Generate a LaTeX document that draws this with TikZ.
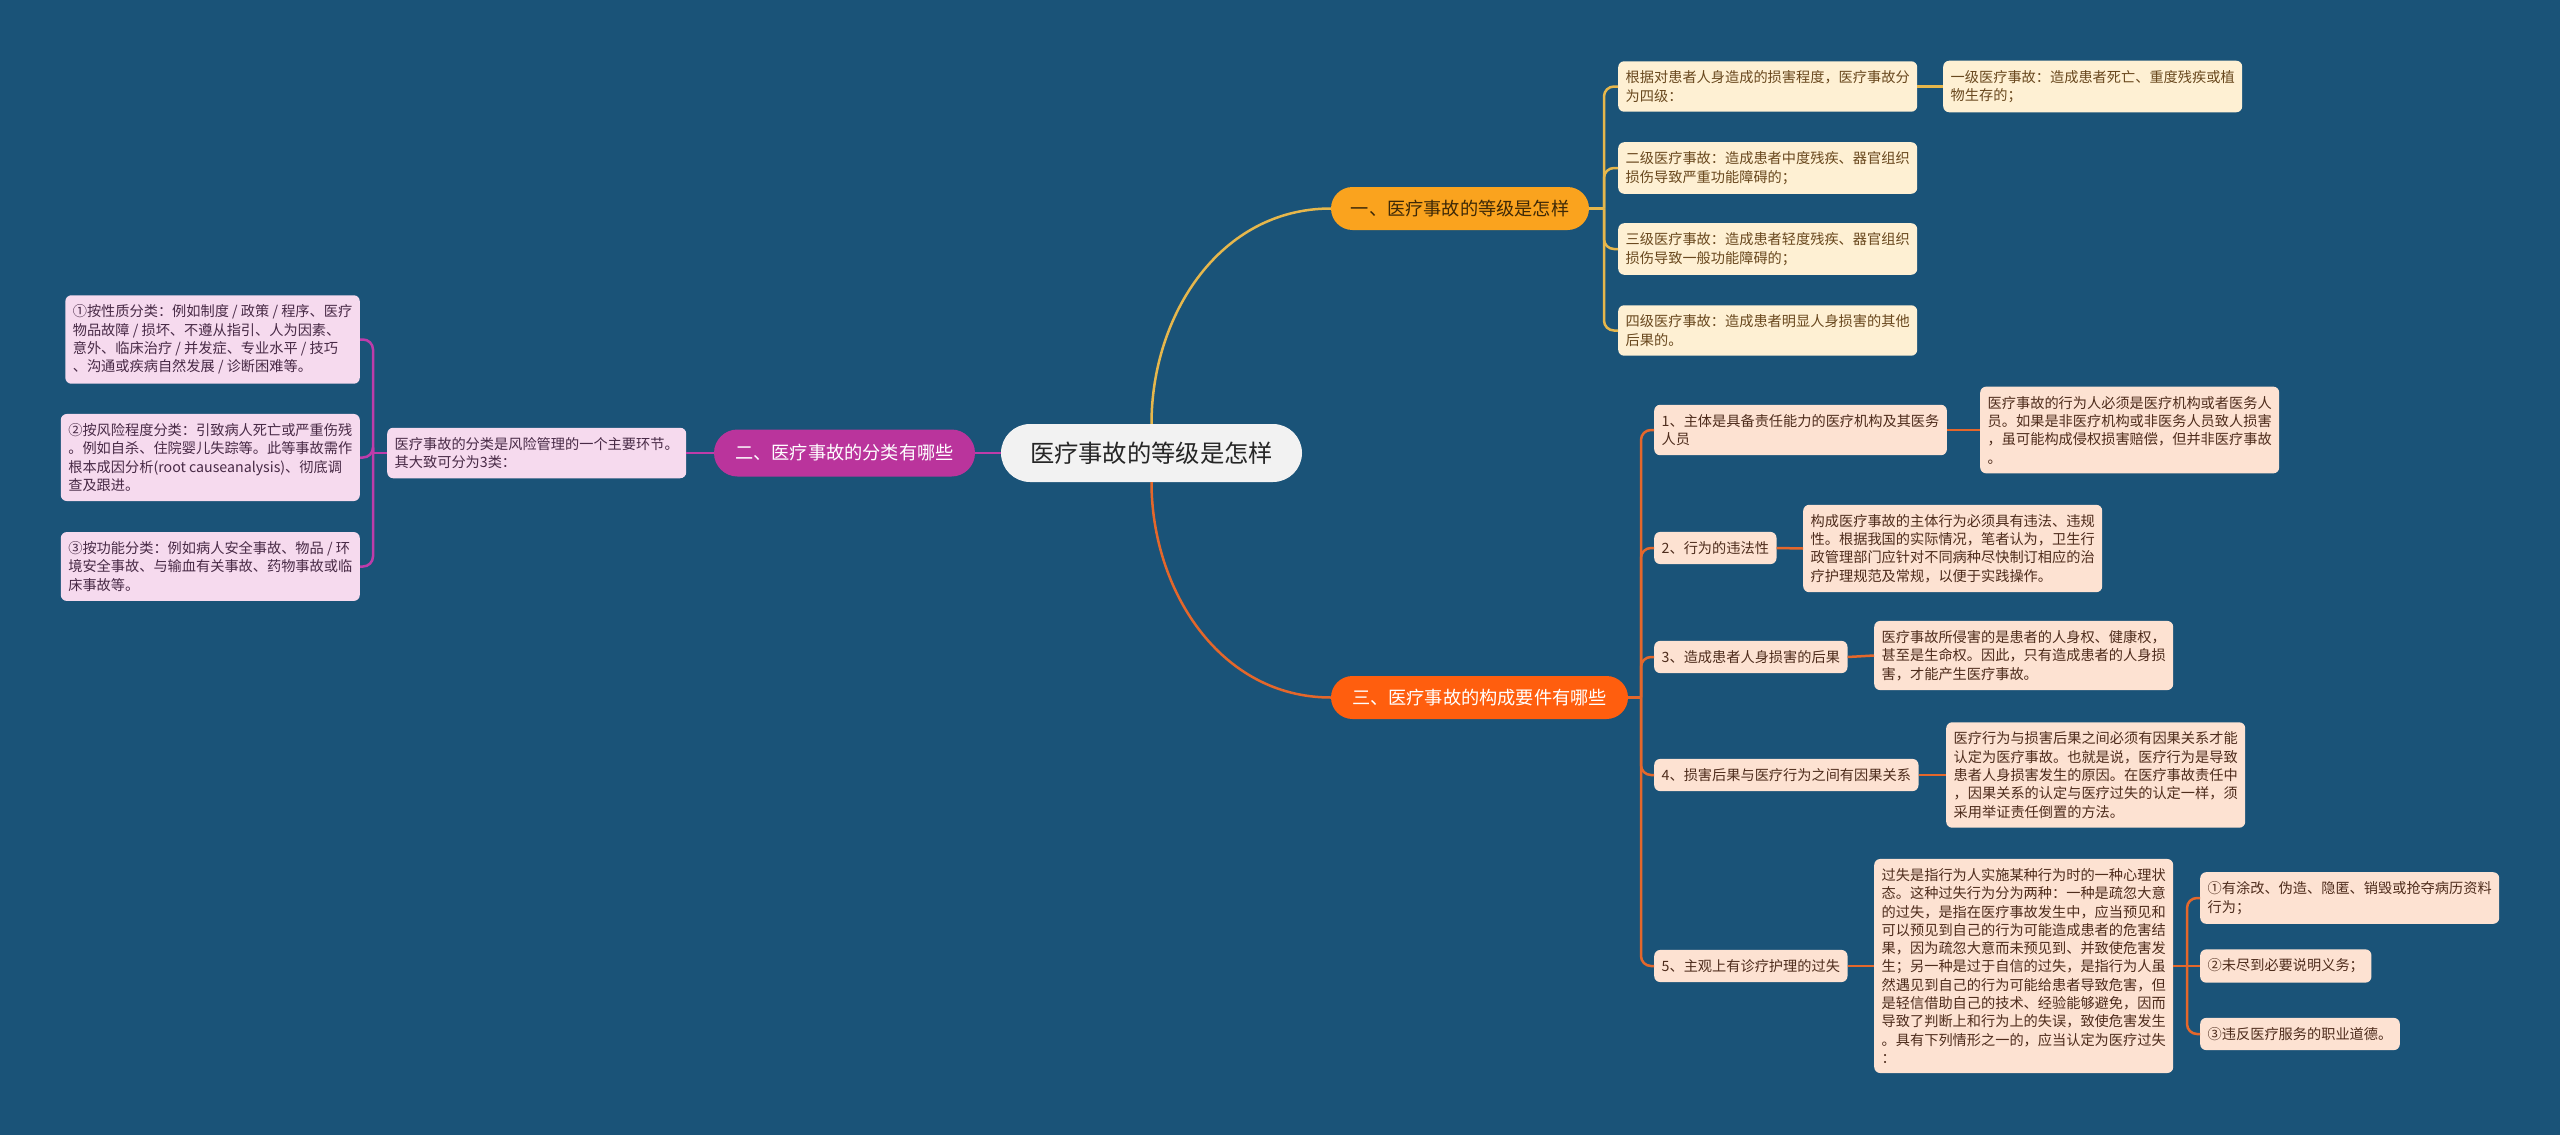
\documentclass[tikz,border=0pt]{standalone}
\usepackage{fontspec}
\setmainfont{Noto Sans CJK SC}
\definecolor{bgblue}{RGB}{26,83,120}
\definecolor{goldline}{RGB}{230,183,76}
\definecolor{orangeline}{RGB}{228,103,43}
\definecolor{purpleline}{RGB}{190,60,170}
\definecolor{pillone}{RGB}{250,163,30}
\definecolor{pilltwo}{RGB}{186,52,156}
\definecolor{pillthree}{RGB}{255,94,14}
\definecolor{cream}{RGB}{254,240,211}
\definecolor{peach}{RGB}{253,226,210}
\definecolor{pinkbox}{RGB}{246,218,238}
\definecolor{creamtext}{RGB}{105,72,30}
\definecolor{peachtext}{RGB}{78,44,28}
\definecolor{pinktext}{RGB}{72,42,70}
\begin{document}
\begin{tikzpicture}[x=1pt,y=-1pt,
  box/.style={rounded corners=6pt,align=left,inner xsep=7.5pt,inner ysep=9.5pt,
              font=\fontsize{14.2}{18.3}\selectfont},
  gradebox/.style={box,fill=cream,text=creamtext,anchor=west},
  factbox/.style={box,fill=peach,text=peachtext,anchor=west},
  kindbox/.style={box,fill=pinkbox,text=pinktext},
  pill/.style={inner sep=0pt,minimum height=43pt,rounded corners=21.5pt,
               font=\fontsize{18.2}{22}\selectfont},
  gline/.style={draw=goldline,line width=2.5pt,rounded corners=10pt},
  oline/.style={draw=orangeline,line width=2.5pt,rounded corners=10pt},
  pline/.style={draw=purpleline,line width=2.5pt,rounded corners=10pt}]
\fill[bgblue] (0,0) rectangle (2560,1135);

% centre and main branches
\node[fill=black!5,text=black!85,minimum width=301pt,minimum height=58pt,inner sep=0pt,
      rounded corners=29pt,font=\fontsize{24.3}{29}\selectfont] (root) at (1151.5,453) {医疗事故的等级是怎样};
\node[pill,fill=pillone,text=black!75!pillone,minimum width=258pt] (one) at (1460,208.5) {一、医疗事故的等级是怎样};
\node[pill,fill=pilltwo,text=white,minimum width=261pt,minimum height=47pt,rounded corners=23.5pt] (two) at (844.5,453) {二、医疗事故的分类有哪些};
\node[pill,fill=pillthree,text=white,minimum width=297pt] (three) at (1479.5,697.5) {三、医疗事故的构成要件有哪些};

% grades
\node[gradebox] (ga) at (1618,86.5) {根据对患者人身造成的损害程度，医疗事故分\\为四级：};
\node[gradebox] (ga1) at (1943,86.5) {一级医疗事故：造成患者死亡、重度残疾或植\\物生存的；};
\node[gradebox] (gb) at (1618,168) {二级医疗事故：造成患者中度残疾、器官组织\\损伤导致严重功能障碍的；};
\node[gradebox] (gc) at (1618,249) {三级医疗事故：造成患者轻度残疾、器官组织\\损伤导致一般功能障碍的；};
\node[gradebox] (gd) at (1618,330.5) {四级医疗事故：造成患者明显人身损害的其他\\后果的。};

% kinds
\node[kindbox,anchor=west] (mid) at (387,453) {医疗事故的分类是风险管理的一个主要环节。\\其大致可分为3类：};
\node[kindbox,anchor=east] (l1) at (360,339.5) {①按性质分类：例如制度 / 政策 / 程序、医疗\\物品故障 /  损坏、不遵从指引、人为因素、\\意外、临床治疗 /  并发症、专业水平 / 技巧\\、沟通或疾病自然发展 / 诊断困难等。};
\node[kindbox,anchor=east] (l2) at (360,457.5) {②按风险程度分类：引致病人死亡或严重伤残\\。例如自杀、住院婴儿失踪等。此等事故需作\\根本成因分析(root causeanalysis)、彻底调\\查及跟进。};
\node[kindbox,anchor=east] (l3) at (360,566.5) {③按功能分类：例如病人安全事故、物品 / 环\\境安全事故、与输血有关事故、药物事故或临\\床事故等。};

% elements
\node[factbox] (n1) at (1654,430) {1、主体是具备责任能力的医疗机构及其医务\\人员};
\node[factbox] (n1a) at (1980,430) {医疗事故的行为人必须是医疗机构或者医务人\\员。如果是非医疗机构或非医务人员致人损害\\，虽可能构成侵权损害赔偿，但并非医疗事故\\。};
\node[factbox] (n2) at (1654,548) {2、行为的违法性};
\node[factbox] (n2a) at (1803,548.5) {构成医疗事故的主体行为必须具有违法、违规\\性。根据我国的实际情况，笔者认为，卫生行\\政管理部门应针对不同病种尽快制订相应的治\\疗护理规范及常规，以便于实践操作。};
\node[factbox] (n3) at (1654,657) {3、造成患者人身损害的后果};
\node[factbox] (n3a) at (1874,655.5) {医疗事故所侵害的是患者的人身权、健康权，\\甚至是生命权。因此，只有造成患者的人身损\\害，才能产生医疗事故。};
\node[factbox] (n4) at (1654,775) {4、损害后果与医疗行为之间有因果关系};
\node[factbox] (n4a) at (1946,775) {医疗行为与损害后果之间必须有因果关系才能\\认定为医疗事故。也就是说，医疗行为是导致\\患者人身损害发生的原因。在医疗事故责任中\\，因果关系的认定与医疗过失的认定一样，须\\采用举证责任倒置的方法。};
\node[factbox] (n5) at (1654,966) {5、主观上有诊疗护理的过失};
\node[factbox] (n5a) at (1874,966) {过失是指行为人实施某种行为时的一种心理状\\态。这种过失行为分为两种：一种是疏忽大意\\的过失，是指在医疗事故发生中，应当预见和\\可以预见到自己的行为可能造成患者的危害结\\果，因为疏忽大意而未预见到、并致使危害发\\生；另一种是过于自信的过失，是指行为人虽\\然遇见到自己的行为可能给患者导致危害，但\\是轻信借助自己的技术、经验能够避免，因而\\导致了判断上和行为上的失误，致使危害发生\\。具有下列情形之一的，应当认定为医疗过失\\：};
\node[factbox] (b1) at (2200,898) {①有涂改、伪造、隐匿、销毁或抢夺病历资料\\行为；};
\node[factbox] (b2) at (2200,966) {②未尽到必要说明义务；};
\node[factbox] (b3) at (2200,1034) {③违反医疗服务的职业道德。};

% connectors
\draw[gline] (root.north) .. controls (1151.5,315) and (1220,208.5) .. (one.west);
\draw[oline] (root.south) .. controls (1151.5,590) and (1220,697.5) .. (three.west);
\draw[pline] (root.west) -- (two.east);
\draw[pline] (two.west) -- (mid.east);

\coordinate (jone) at (1604,208.5);
\draw[gline] (one.east) -- (jone);
\foreach \c in {ga,gb,gc,gd}
  \draw[gline] (jone) |- (\c.west);
\draw[gline] (ga.east) -- (ga1.west);

\coordinate (jtwo) at (373,453);
\draw[pline] (mid.west) -- (jtwo);
\foreach \c in {l1,l2,l3}
  \draw[pline] (jtwo) |- (\c.east);

\coordinate (jthree) at (1641,697.5);
\draw[oline] (three.east) -- (jthree);
\foreach \c in {n1,n2,n3,n4,n5}{
  \draw[oline] (jthree) |- (\c.west);
  \draw[oline] (\c.east) -- (\c a.west);
}
\coordinate (jfive) at (2187,966);
\draw[oline] (n5a.east) -- (jfive) -- (b2.west);
\foreach \c in {b1,b3}
  \draw[oline] (jfive) |- (\c.west);
\end{tikzpicture}
\end{document}
